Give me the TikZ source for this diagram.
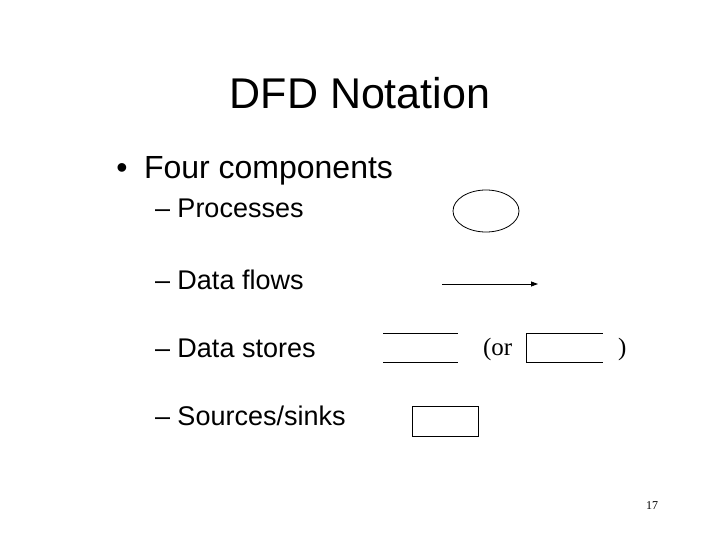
\documentclass[tikz,border=0pt]{standalone}
\usepackage{fontspec}
\setmainfont{Liberation Sans}
\newfontfamily\serifface{Liberation Serif}
\usetikzlibrary{arrows.meta}
\begin{document}
\begin{tikzpicture}[x=1pt,y=-1pt,
  txt/.style={inner sep=0pt,outer sep=0pt,anchor=base west},
  shp/.style={draw=black,line width=0.8pt},
  item/.style={txt,font=\fontsize{27}{31}\selectfont}]
\useasboundingbox[fill=white] (0,0) rectangle (720,540);
% title
\node[inner sep=0pt,anchor=base,font=\fontsize{43}{50}\selectfont] (title) at (360,109) {DFD Notation};
% bullet
\node[inner sep=0pt,anchor=base,font=\fontsize{32}{36}\selectfont] (bul) at (122,179) {\textbullet};
\node[txt,font=\fontsize{32}{36}\selectfont] (four) at (144,179) {Four components};
% items
\node[item] (proc) at (155,218) {– Processes};
\node[item] (flow) at (155,289) {– Data flows};
\node[item] (store) at (155,357) {– Data stores};
\node[item] (src) at (155,425) {– Sources/sinks};
% process ellipse
\draw[shp] (486,211) ellipse [x radius=33, y radius=21];
% data flow arrow
\coordinate (fa) at (442,284);
\coordinate (fb) at (538,284);
\draw[shp,-{Triangle[length=7pt,width=5pt]}] (fa) -- (fb);
% data store lines
\coordinate (s1a) at (383,333.3);
\coordinate (s1b) at (457.7,333.3);
\coordinate (s2a) at (383,362.7);
\coordinate (s2b) at (457.7,362.7);
\draw[shp] (s1a) -- (s1b);
\draw[shp] (s2a) -- (s2b);
\node[txt,font=\serifface\fontsize{25}{30}\selectfont] (or) at (483,355) {(or};
\coordinate (o1) at (602.7,333.3);
\coordinate (o2) at (526,333.3);
\coordinate (o3) at (526,362.7);
\coordinate (o4) at (602.7,362.7);
\draw[shp] (o1) -- (o2) -- (o3) -- (o4);
\node[txt,font=\serifface\fontsize{25}{30}\selectfont] (cp) at (618,355) {)};
% source/sink box
\draw[shp] (412,406.7) rectangle (478.3,436);
% page number
\node[txt,font=\serifface\fontsize{12}{14}\selectfont] (pg) at (646,509) {17};
\end{tikzpicture}
\end{document}
